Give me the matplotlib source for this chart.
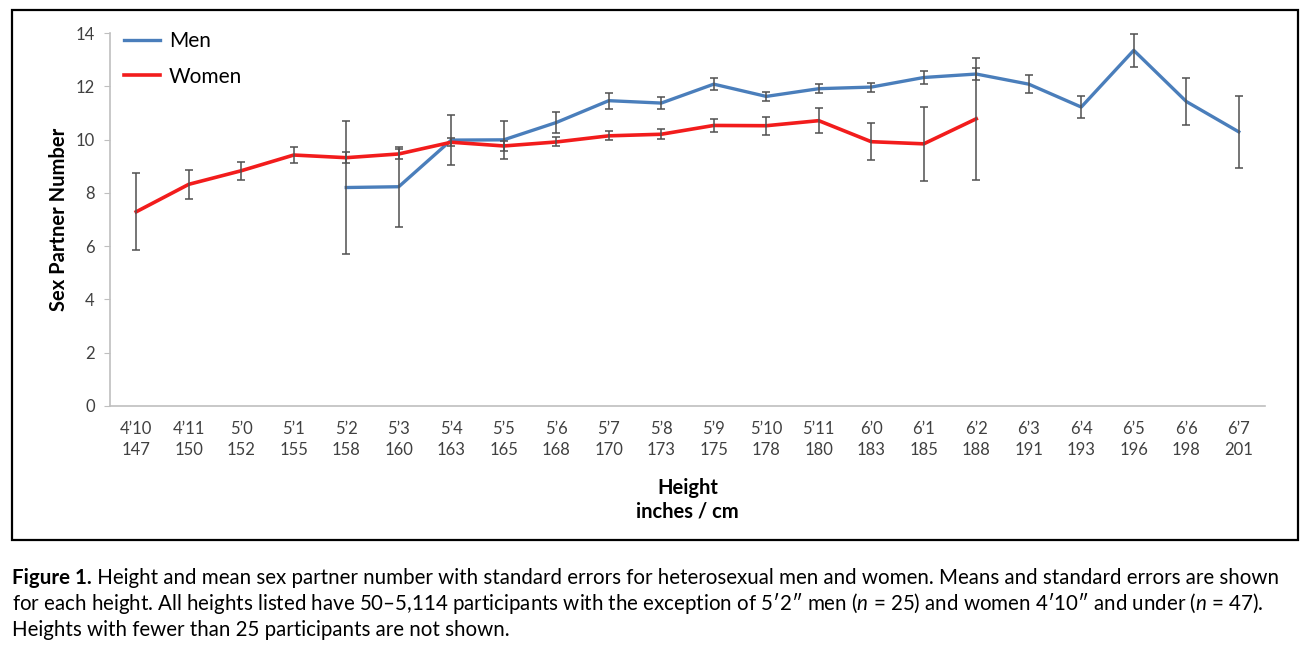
import numpy as np
import matplotlib
matplotlib.use('Agg')
import matplotlib.pyplot as plt
from matplotlib.patches import Rectangle

# data
heights_in = ["4’10", "4’11", "5’0", "5’1", "5’2", "5’3", "5’4", "5’5", "5’6", "5’7", "5’8",
              "5’9", "5’10", "5’11", "6’0", "6’1", "6’2", "6’3", "6’4", "6’5", "6’6", "6’7"]
heights_cm = [147, 150, 152, 155, 158, 160, 163, 165, 168, 170, 173,
              175, 178, 180, 183, 185, 188, 191, 193, 196, 198, 201]

nan = np.nan
men_mean = [nan, nan, nan, nan, 8.20, 8.23, 9.98, 9.99, 10.64, 11.46, 11.37,
            12.08, 11.62, 11.91, 11.97, 12.33, 12.46, 12.08, 11.22, 13.35, 11.43, 10.29]
men_se = [nan, nan, nan, nan, 2.51, 1.50, 0.94, 0.72, 0.40, 0.30, 0.24,
          0.22, 0.16, 0.18, 0.17, 0.23, 0.24, 0.33, 0.41, 0.62, 0.87, 1.36]
women_mean = [7.29, 8.32, 8.83, 9.42, 9.32, 9.46, 9.90, 9.76, 9.91, 10.14, 10.20,
              10.53, 10.52, 10.71, 9.92, 9.84, 10.78, nan, nan, nan, nan, nan]
women_se = [1.45, 0.54, 0.34, 0.29, 0.20, 0.20, 0.16, 0.20, 0.17, 0.17, 0.19,
            0.25, 0.33, 0.47, 0.70, 1.38, 2.29, nan, nan, nan, nan, nan]

plt.rcParams['font.family'] = ['Lato', 'DejaVu Sans']
plt.rcParams['mathtext.fontset'] = 'custom'
plt.rcParams['mathtext.rm'] = 'Lato'
plt.rcParams['mathtext.it'] = 'Lato:italic'

W, H = 1310, 652
fig = plt.figure(figsize=(W / 100, H / 100), dpi=100)
ax = fig.add_axes([110 / W, 1 - 406 / H, 1155 / W, 373 / H])

x = np.arange(len(heights_in))
men_color = '#4a7ebb'
women_color = '#f21c1c'
grey = '#bfbfbf'
txt = '#404040'

ax.plot(x, men_mean, color=men_color, lw=2.4, label='Men', zorder=2)
ax.plot(x, women_mean, color=women_color, lw=2.6, label='Women', zorder=2)
ax.errorbar(x, men_mean, yerr=men_se, fmt='none', ecolor='#505050', elinewidth=1.1,
            capsize=3, capthick=1.1, zorder=3)
ax.errorbar(x, women_mean, yerr=women_se, fmt='none', ecolor='#505050', elinewidth=1.1,
            capsize=3, capthick=1.1, zorder=3)

ax.set_xlim(-0.5, len(x) - 0.5)
ax.set_ylim(0, 14)
ax.set_yticks(np.arange(0, 15, 2))
ax.set_xticks(x)
ax.set_xticklabels([f"{a}\n{b}" for a, b in zip(heights_in, heights_cm)], linespacing=1.4)

for s in ['top', 'right']:
    ax.spines[s].set_visible(False)
for s in ['left', 'bottom']:
    ax.spines[s].set_color(grey)
    ax.spines[s].set_linewidth(1.2)
ax.tick_params(axis='y', colors=grey, labelcolor=txt, labelsize=12, length=4, pad=7)
ax.tick_params(axis='x', length=0, labelcolor=txt, labelsize=12, pad=11)

ax.set_ylabel('Sex Partner Number', fontsize=14.5, fontweight='bold', color='black', labelpad=5)
ax.set_xlabel('Height\ninches / cm', fontsize=14.5, fontweight='bold', color='black',
              labelpad=14, linespacing=1.2)

leg = ax.legend(loc='upper left', bbox_to_anchor=(0.012, 1.005), frameon=False, fontsize=15,
                handlelength=1.75, handletextpad=0.4, labelspacing=0.75, borderaxespad=0, borderpad=0)

# frame around the chart
fig.patches.append(Rectangle((12 / W, 1 - 540 / H), 1286 / W, 530 / H, transform=fig.transFigure,
                             fill=False, edgecolor='black', lw=1.6))

# caption
cap_size = 14.8
t1 = fig.text(12 / W, 1 - 584 / H, 'Figure 1.', fontsize=cap_size, fontweight='bold', color='black')
ax.annotate(' Height and mean sex partner number with standard errors for heterosexual men and women. '
            'Means and standard errors are shown', xy=(1, 0), xycoords=t1, fontsize=cap_size,
            va='bottom', ha='left', annotation_clip=False)
fig.text(12 / W, 1 - 610 / H, 'for each height. All heights listed have 50–5,114 participants with the '
         'exception of 5′2″ men ($n$ = 25) and women 4′10″ and under ($n$ = 47).', fontsize=cap_size)
fig.text(12 / W, 1 - 636 / H, 'Heights with fewer than 25 participants are not shown.', fontsize=cap_size)

fig.savefig('out.png', dpi=100)
